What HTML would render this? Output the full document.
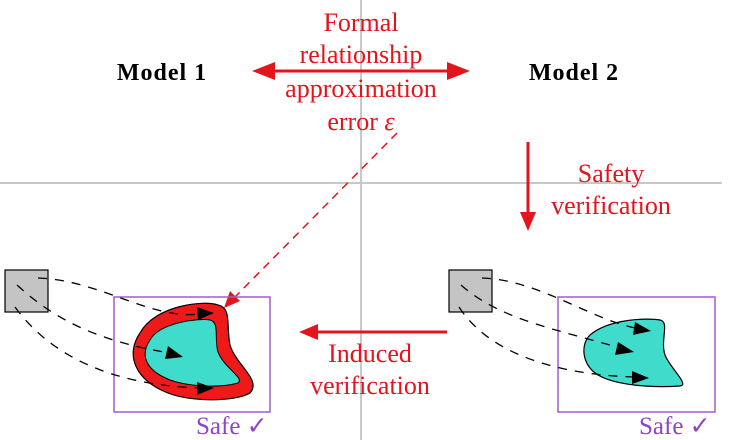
<!DOCTYPE html>
<html><head><meta charset="utf-8"><style>
html,body{margin:0;padding:0;background:#fff;}
svg{display:block;}
svg text{font-family:"Liberation Serif","DejaVu Serif",serif !important;}
</style></head><body>
<svg width="730" height="440" viewBox="0 0 730 440" xmlns="http://www.w3.org/2000/svg" font-family="Liberation Serif, serif">
<line x1="361" y1="0" x2="361" y2="440" stroke="#c8c8c8" stroke-width="2"/>
<line x1="0" y1="183" x2="722" y2="183" stroke="#c8c8c8" stroke-width="2"/>

<text x="162" y="80" font-size="24" font-weight="bold" text-anchor="middle" letter-spacing="1">Model 1</text>
<text x="574" y="80" font-size="24" font-weight="bold" text-anchor="middle" letter-spacing="1">Model 2</text>

<g fill="#e3141c" font-size="26" text-anchor="middle">
<text x="361" y="31">Formal</text>
<text x="361" y="63">relationship</text>
<text x="361" y="97">approximation</text>
<text x="361" y="130">error <tspan font-style="italic">ε</tspan></text>
<text x="611" y="182">Safety</text>
<text x="611" y="214">verification</text>
<text x="370" y="362">Induced</text>
<text x="370" y="394">verification</text>
</g>
<line x1="262" y1="71" x2="460" y2="71" stroke="#e3141c" stroke-width="3"/>
<path d="M252,71 L275,62 L275,80 Z" fill="#e3141c"/>
<path d="M470,71 L447,62 L447,80 Z" fill="#e3141c"/>
<line x1="528" y1="142" x2="528" y2="215" stroke="#e3141c" stroke-width="3"/>
<path d="M528,231 L520,212 L536,212 Z" fill="#e3141c"/>
<line x1="447" y1="332" x2="315" y2="332" stroke="#e3141c" stroke-width="3"/>
<path d="M299,332 L318,324 L318,340 Z" fill="#e3141c"/>
<line x1="397" y1="133" x2="234" y2="298" stroke="#e3141c" stroke-width="1.5" stroke-dasharray="8,6"/>
<path d="M224,308 L230,291 L240,301 Z" fill="#e3141c"/>

<!-- left -->
<rect x="5" y="270" width="43" height="42" fill="#c4c4c4" stroke="#000" stroke-width="1.2"/>
<rect x="114" y="297" width="156" height="115" fill="none" stroke="#a35ad6" stroke-width="1.5"/>
<path d="M140,333 C155,305 205,300 218,305 C232,308 226,325 230,345 C236,365 262,380 250,393 C235,402 190,402 168,393 C135,380 125,355 140,333 Z" fill="#ee1a1a" stroke="#000" stroke-width="1.2"/>
<path d="M150,340 C160,322 200,318 210,320 C220,322 214,340 218,352 C224,368 245,378 238,383 C220,388 190,387 170,380 C145,370 140,355 150,340 Z" fill="#3fdccc" stroke="#000" stroke-width="1"/>
<g fill="none" stroke="#000" stroke-width="1.3" stroke-dasharray="9,8">
<path d="M38,278 C100,280 150,320 200,314"/>
<path d="M17,285 C50,315 90,340 170,353"/>
<path d="M15,307 C50,355 110,385 200,388"/>
</g>
<g fill="#000">
<path d="M214,313 L197,307 L198,320 Z"/>
<path d="M183,357 L168,346 L165,359 Z"/>
<path d="M214,388 L197,382 L197,395 Z"/>
</g>
<text x="196" y="434" font-size="25" fill="#8e44c8">Safe ✓</text>

<!-- right -->
<rect x="449" y="270" width="43" height="42" fill="#c4c4c4" stroke="#000" stroke-width="1.2"/>
<rect x="558" y="297" width="157" height="115" fill="none" stroke="#a35ad6" stroke-width="1.5"/>
<path d="M590,335 C610,318 650,318 660,320 C670,322 660,340 665,355 C670,368 690,385 680,386 C650,388 615,385 598,375 C582,365 580,345 590,335 Z" fill="#3fdccc" stroke="#000" stroke-width="1.2"/>
<g fill="none" stroke="#000" stroke-width="1.3" stroke-dasharray="9,8">
<path d="M482,278 C540,280 590,320 640,329"/>
<path d="M461,285 C500,320 560,330 620,348"/>
<path d="M459,307 C490,355 560,375 635,377"/>
</g>
<g fill="#000">
<path d="M651,331 L635,322 L633,335 Z"/>
<path d="M634,352 L618,342 L615,355 Z"/>
<path d="M649,378 L632,371 L632,384 Z"/>
</g>
<text x="639" y="434" font-size="25" fill="#8e44c8">Safe ✓</text>
</svg>
</body></html>
